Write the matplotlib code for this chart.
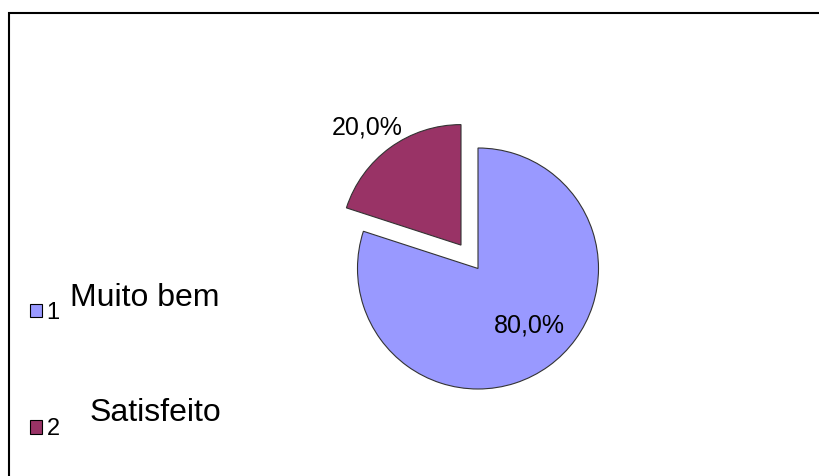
import matplotlib
matplotlib.use("Agg")
import matplotlib.pyplot as plt
from matplotlib.patches import Patch, Rectangle

# data
categories = ["Muito bem", "Satisfeito"]
codes = ["1", "2"]
values = [80.0, 20.0]
colors = ["#9999FF", "#993366"]

plt.rcParams['font.family'] = ['Liberation Sans', 'DejaVu Sans']

W, H = 819, 476
fig = plt.figure(figsize=(W / 100, H / 100), dpi=100)

# axes spanning whole figure; pie of radius 1 centred at pixel (478, 268.5)
cx, cy, r = 478.0, 268.5, 120.5
ax = fig.add_axes([0, 0, 1, 1])

wedges, _ = ax.pie(values, colors=colors, startangle=90, counterclock=False,
                   explode=[0, 0.24], radius=1,
                   wedgeprops=dict(edgecolor="#333333", linewidth=0.8))
ax.set_aspect("auto")
ax.set_xlim(-cx / r, (W - cx) / r)
ax.set_ylim(-(H - cy) / r, cy / r)
ax.axis("off")

# percentage labels
pct_pos = [(0.43, -0.47), (-0.92, 1.17)]
for v, (x, y) in zip(values, pct_pos):
    ax.text(x, y, f"{v:.1f}%".replace(".", ","), fontsize=18,
            ha="center", va="center")

# outer frame (right and bottom edges fall outside the image)
fig.patches.append(Rectangle((8.5 / W, -0.1), 1.2, 1 - 12.5 / H + 0.1,
                             transform=fig.transFigure, fill=False,
                             edgecolor="black", linewidth=1.5))

# legend: small squares with codes, category names as separate text
handles = [Patch(facecolor=c, edgecolor="black", linewidth=0.8) for c in colors]
fig.legend(handles, codes, loc="upper left", bbox_to_anchor=(30 / W, 1 - 302 / H),
           frameon=False, fontsize=17, handlelength=0.5, handleheight=0.5,
           handletextpad=0.2, labelspacing=4.0, borderpad=0, borderaxespad=0)

name_pos = [(70, 298), (90, 413)]
for name, (px, py) in zip(categories, name_pos):
    fig.text(px / W, 1 - py / H, name, fontsize=23, ha="left", va="center")

fig.savefig("out.png", dpi=100)
